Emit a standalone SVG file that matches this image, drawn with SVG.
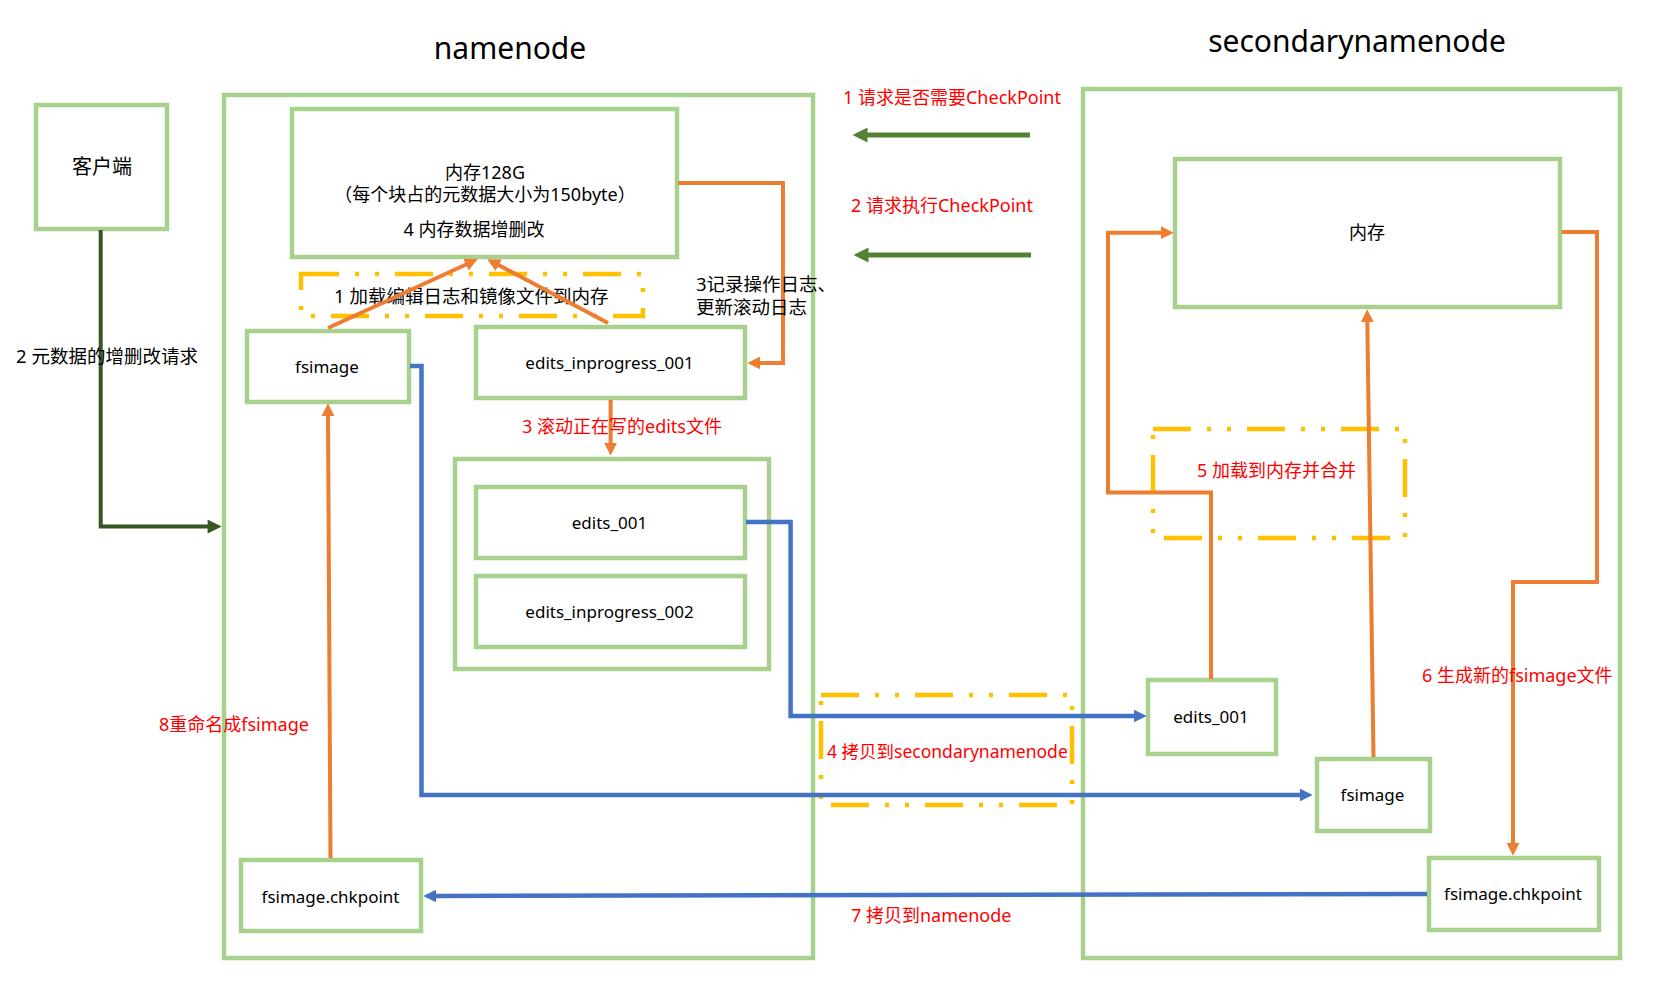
<svg xmlns="http://www.w3.org/2000/svg" width="1672" height="983" viewBox="0 0 1672 983">
<style>
text{font-family:"Noto Sans","Noto Sans CJK SC",sans-serif;fill:#000;}
.t{font-size:17px;text-anchor:middle;}
.m{font-size:18px;text-anchor:middle;}
.c{font-size:18.5px;}
.r{font-size:18px;fill:#FF0000;}
.title{font-size:30px;text-anchor:middle;}
.box{fill:none;stroke:#A9D18E;stroke-width:4.5;}
.dash{fill:none;stroke:#FFC000;stroke-width:4.5;stroke-dasharray:38 16 4 16 4 16;}
.or{fill:none;stroke:#ED7D31;stroke-width:4;}
.bl{fill:none;stroke:#4472C4;stroke-width:4.5;}
.gr{fill:none;stroke:#548235;stroke-width:5;}
.dg{fill:none;stroke:#375623;stroke-width:4;}
</style>
<defs>
<marker id="ao" viewBox="0 0 10 10" refX="1" refY="5" markerWidth="13" markerHeight="13" markerUnits="userSpaceOnUse" orient="auto"><path d="M0,0 L10,5 L0,10 z" fill="#ED7D31"/></marker>
<marker id="ab" viewBox="0 0 10 10" refX="1" refY="5" markerWidth="13" markerHeight="13" markerUnits="userSpaceOnUse" orient="auto"><path d="M0,0 L10,5 L0,10 z" fill="#4472C4"/></marker>
<marker id="ag" viewBox="0 0 10 10" refX="1" refY="5" markerWidth="15" markerHeight="15" markerUnits="userSpaceOnUse" orient="auto"><path d="M0,0 L10,5 L0,10 z" fill="#548235"/></marker>
<marker id="ad" viewBox="0 0 10 10" refX="1" refY="5" markerWidth="15" markerHeight="14" markerUnits="userSpaceOnUse" orient="auto"><path d="M0,0 L10,5 L0,10 z" fill="#375623"/></marker>
</defs>
<rect width="1672" height="983" fill="#fff"/>
<text class="title" x="510" y="59">namenode</text>
<text class="title" x="1357" y="52">secondarynamenode</text>

<g id="namenode"><rect class="box" x="224" y="95" width="589" height="863"/></g>
<g id="secondarynamenode"><rect class="box" x="1083" y="89" width="537" height="869"/></g>

<g id="client"><rect class="box" x="36" y="105" width="131" height="124"/><text class="t" style="font-size:20px" x="102" y="174">客户端</text></g>
<g id="nn-memory"><rect class="box" x="292" y="109" width="385" height="148"/>
<text class="m" x="485" y="179">内存128G</text>
<text class="m" x="485" y="201">（每个块占的元数据大小为150byte）</text>
<text class="m" x="474" y="236">4 内存数据增删改</text></g>
<g id="load-box"><rect class="dash" x="301" y="274" width="342" height="42"/><text class="c" x="334" y="303">1 加载编辑日志和镜像文件到内存</text></g>
<g id="nn-fsimage"><rect class="box" x="247" y="331" width="162" height="71"/><text class="t" x="327" y="373">fsimage</text></g>
<g id="nn-edits-inprogress-001"><rect class="box" x="476" y="327" width="269" height="71"/><text class="t" x="609.5" y="369">edits_inprogress_001</text></g>
<g id="nn-edits-container"><rect class="box" x="455" y="459" width="314" height="210"/></g>
<g id="nn-edits-001"><rect class="box" x="476" y="487" width="269" height="71"/><text class="t" x="609.5" y="529">edits_001</text></g>
<g id="nn-edits-inprogress-002"><rect class="box" x="476" y="576" width="269" height="71"/><text class="t" x="609.5" y="618">edits_inprogress_002</text></g>
<g id="nn-chkpoint"><rect class="box" x="241" y="860" width="180" height="71"/><text class="t" x="330.5" y="903">fsimage.chkpoint</text></g>

<g id="snn-memory"><rect class="box" x="1175" y="159" width="385" height="148"/><text class="m" x="1367" y="239">内存</text></g>
<g id="merge-box"><rect class="dash" x="1153" y="429" width="252" height="109"/></g>
<g id="copy-box"><rect class="dash" x="821" y="695" width="251" height="110"/></g>
<g id="snn-edits-001"><rect class="box" x="1148" y="680" width="128" height="74"/><text class="t" x="1211" y="723">edits_001</text></g>
<g id="snn-fsimage"><rect class="box" x="1317" y="759" width="113" height="72"/><text class="t" x="1372.5" y="801">fsimage</text></g>
<g id="snn-chkpoint"><rect class="box" x="1429" y="858" width="170" height="72"/><text class="t" x="1513" y="900">fsimage.chkpoint</text></g>

<g id="connectors">
<path class="dg" d="M100.7,230 V526.6 H209" marker-end="url(#ad)"/>
<path class="gr" d="M1030,135 H866" marker-end="url(#ag)"/>
<path class="gr" d="M1031,255 H867" marker-end="url(#ag)"/>
<path class="or" d="M678,183 H783 V363 H759" marker-end="url(#ao)"/>
<path class="or" d="M328,328 L467.1,264" marker-end="url(#ao)"/>
<path class="or" d="M608,323 L497.6,264.6" marker-end="url(#ao)"/>
<path class="or" d="M610.6,400 V444" marker-end="url(#ao)"/>
<path class="or" d="M330.5,858 L328,415" marker-end="url(#ao)"/>
<path class="bl" d="M746,522 H790.6 V716 H1135" marker-end="url(#ab)"/>
<path class="bl" d="M410,366 H421.5 V795 H1301" marker-end="url(#ab)"/>
<path class="bl" d="M1427,894 L435,896" marker-end="url(#ab)"/>
<path class="or" d="M1211,679 V492.6 H1108 V232.7 H1162" marker-end="url(#ao)"/>
<path class="or" d="M1373.5,757 L1367.3,321" marker-end="url(#ao)"/>
<path class="or" d="M1561.5,232 H1597 V582 H1513 V844" marker-end="url(#ao)"/>
</g>

<g id="labels">
<text class="c" x="16" y="363">2 元数据的增删改请求</text>
<text class="c" x="696" y="291">3记录操作日志、</text>
<text class="c" x="696" y="314">更新滚动日志</text>
<text class="r" x="522" y="433">3 滚动正在写的edits文件</text>
<text class="r" x="159" y="731">8重命名成fsimage</text>
<text class="r" x="843" y="104">1 请求是否需要CheckPoint</text>
<text class="r" x="851" y="212">2 请求执行CheckPoint</text>
<text class="r" x="1197" y="477">5 加载到内存并合并</text>
<text class="r" x="1422" y="682">6 生成新的fsimage文件</text>
<text class="r" style="font-size:17.5px" x="827" y="758">4 拷贝到secondarynamenode</text>
<text class="r" x="851" y="922">7 拷贝到namenode</text>
</g>
</svg>
